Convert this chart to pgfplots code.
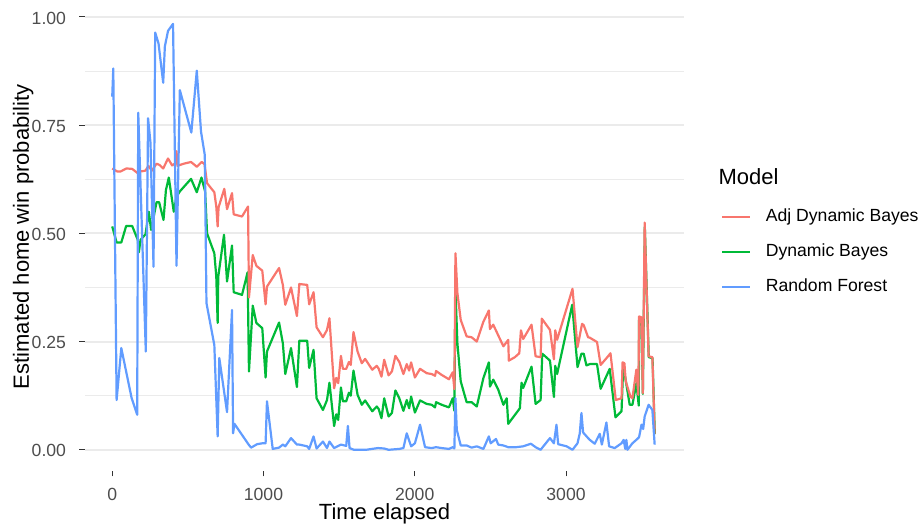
\documentclass[border=0pt]{standalone}
\usepackage{fontspec}
\setmainfont{Liberation Sans}
\usepackage{pgfplots}
\pgfplotsset{compat=1.18}

\definecolor{adjred}{HTML}{F8766D}
\definecolor{dbgreen}{HTML}{00BA38}
\definecolor{rfblue}{HTML}{619CFF}
\definecolor{grid92}{HTML}{EBEBEB}
\definecolor{txt30}{HTML}{4D4D4D}
\definecolor{tick20}{HTML}{333333}

\begin{document}
\begin{tikzpicture}
\path[use as bounding box] (-85pt,-53pt) rectangle (837pt,471pt);
\begin{axis}[
    at={(0pt,0pt)}, anchor=south west,
    scale only axis,
    width=599pt, height=468.3pt,
    xmin=-180, xmax=3780,
    ymin=-0.049, ymax=1.033,
    axis x line*=bottom, axis y line*=left,
    axis line style={draw=none},
    xtick={0,1000,2000,3000},
    xticklabels={0,1000,2000,3000},
    ytick={0,0.25,0.5,0.75,1},
    yticklabels={0.00,0.25,0.50,0.75,1.00},
    minor ytick={0.125,0.375,0.625,0.875},
    ymajorgrids, yminorgrids,
    major grid style={grid92, line width=1.9pt},
    minor grid style={grid92, line width=0.95pt},
    tick align=outside,
    major tick length=5.5pt,
    minor tick length=0pt,
    tick style={tick20, line width=1pt},
    xticklabel style={anchor=base, inner sep=0pt, yshift=-24pt, text=txt30,
        font=\fontsize{17.6}{20}\selectfont},
    yticklabel style={anchor=east, inner sep=0pt, xshift=-13.3pt, yshift=-1pt, text=txt30,
        font=\fontsize{17.6}{20}\selectfont},
    xlabel={Time elapsed},
    ylabel={Estimated home win probability},
    xlabel style={at={(axis description cs:0.5,0)}, anchor=base, yshift=-49pt,
        inner sep=0pt, font=\fontsize{22}{26}\selectfont},
    ylabel style={at={(axis description cs:-0.0938,0.5)}, anchor=base,
        inner sep=0pt, font=\fontsize{22}{26}\selectfont},
    legend style={at={(1.0618,0.5601)}, anchor=north west, draw=none, fill=none,
        inner sep=0pt, outer sep=0pt, row sep=18pt, column sep=0pt,
        font=\fontsize{17.6}{20}\selectfont,
        nodes={inner sep=0pt, text height=13pt, text depth=4pt}},
    legend cell align=left,
    legend image code/.code={
        \draw[#1, line width=2.2pt] (0pt,0pt) -- (28pt,0pt);
        \path (42.7pt,0pt);
    },
    every axis plot/.append style={line width=2.2pt, line join=round},
]

% Dynamic Bayes (drawn first, sits under the adjusted line)
\addplot[dbgreen, forget plot] coordinates {
(0,0.516) (29,0.479) (60,0.479) (92,0.517) (132,0.517) (169,0.485) (176,0.456)
(187,0.485) (220,0.498) (242,0.550) (257,0.508) (293,0.572) (310,0.572) (339,0.531)
(355,0.600) (374,0.629) (407,0.550) (425,0.585) (447,0.597) (521,0.626) (559,0.595)
(590,0.629) (614,0.597) (627,0.500) (675,0.454) (688,0.400) (697,0.293) (701,0.400)
(739,0.497) (759,0.389) (792,0.472) (803,0.364) (858,0.358) (895,0.410) (904,0.181)
(929,0.333) (953,0.293) (992,0.281) (1014,0.167) (1023,0.227) (1103,0.294) (1128,0.246)
(1144,0.175) (1182,0.235) (1221,0.145) (1237,0.252) (1289,0.252) (1302,0.189) (1331,0.231)
(1351,0.119) (1393,0.092) (1420,0.115) (1436,0.155) (1467,0.055) (1481,0.082) (1494,0.069)
(1512,0.144) (1525,0.112) (1547,0.112) (1565,0.132) (1577,0.125) (1595,0.183) (1622,0.127)
(1650,0.104) (1672,0.114) (1719,0.089) (1749,0.100) (1762,0.094) (1780,0.073) (1798,0.119)
(1827,0.077) (1849,0.085) (1872,0.137) (1898,0.119) (1925,0.090) (1947,0.115) (1963,0.096)
(1976,0.123) (2001,0.086) (2035,0.114) (2079,0.106) (2112,0.104) (2134,0.098) (2141,0.110)
(2178,0.104) (2226,0.098) (2251,0.119) (2262,0.090) (2269,0.370) (2282,0.246) (2304,0.158)
(2343,0.110) (2376,0.110) (2410,0.100) (2454,0.166) (2490,0.202) (2497,0.146) (2519,0.162)
(2552,0.139) (2586,0.104) (2608,0.119) (2618,0.060) (2695,0.096) (2706,0.155) (2717,0.143)
(2772,0.192) (2799,0.106) (2832,0.115) (2843,0.222) (2894,0.206) (2920,0.122) (2929,0.194)
(2941,0.175) (3041,0.335) (3076,0.191) (3102,0.222) (3117,0.222) (3135,0.195) (3157,0.198)
(3205,0.198) (3229,0.141) (3289,0.187) (3327,0.075) (3367,0.089) (3378,0.192) (3395,0.160)
(3421,0.104) (3439,0.104) (3465,0.154) (3481,0.102) (3483,0.300) (3499,0.300) (3508,0.129)
(3521,0.515) (3547,0.214) (3572,0.212) (3587,0.036)
};

% Adj Dynamic Bayes
\addplot[adjred, forget plot] coordinates {
(0,0.650) (33,0.643) (55,0.643) (94,0.650) (132,0.649) (169,0.639) (187,0.643)
(220,0.645) (239,0.656) (262,0.645) (293,0.661) (313,0.658) (337,0.650) (369,0.673)
(396,0.657) (418,0.662) (425,0.690) (431,0.656) (473,0.661) (521,0.665) (559,0.654)
(592,0.665) (610,0.660) (627,0.616) (675,0.595) (688,0.562) (697,0.516) (703,0.560)
(741,0.603) (759,0.556) (792,0.593) (803,0.544) (858,0.539) (898,0.562) (904,0.352)
(929,0.450) (953,0.425) (992,0.414) (1014,0.336) (1023,0.377) (1103,0.420) (1128,0.381)
(1144,0.335) (1182,0.375) (1221,0.309) (1237,0.383) (1289,0.381) (1302,0.336) (1331,0.364)
(1351,0.283) (1393,0.260) (1420,0.277) (1436,0.304) (1467,0.142) (1481,0.166) (1494,0.154)
(1512,0.217) (1525,0.187) (1547,0.187) (1565,0.203) (1577,0.196) (1595,0.272) (1622,0.227)
(1650,0.200) (1672,0.210) (1719,0.185) (1749,0.194) (1762,0.187) (1780,0.169) (1798,0.208)
(1827,0.172) (1849,0.181) (1872,0.217) (1898,0.203) (1925,0.175) (1947,0.198) (1963,0.183)
(1976,0.202) (2001,0.167) (2035,0.187) (2079,0.177) (2112,0.175) (2134,0.171) (2141,0.182)
(2178,0.173) (2226,0.163) (2251,0.179) (2262,0.140) (2269,0.454) (2282,0.362) (2304,0.300)
(2343,0.262) (2376,0.260) (2410,0.250) (2454,0.296) (2490,0.322) (2497,0.279) (2519,0.289)
(2586,0.239) (2618,0.254) (2622,0.206) (2662,0.214) (2691,0.223) (2702,0.276) (2717,0.256)
(2772,0.289) (2799,0.216) (2832,0.214) (2840,0.303) (2894,0.277) (2920,0.209) (2929,0.276)
(2941,0.254) (3043,0.372) (3076,0.237) (3106,0.291) (3117,0.288) (3146,0.260) (3157,0.259)
(3205,0.249) (3229,0.196) (3278,0.216) (3294,0.223) (3329,0.115) (3367,0.119) (3374,0.202)
(3386,0.200) (3395,0.158) (3426,0.123) (3439,0.119) (3465,0.185) (3478,0.127) (3483,0.308)
(3499,0.306) (3508,0.131) (3520,0.525) (3546,0.216) (3571,0.214) (3586,0.037)
};

% Random Forest
\addplot[rfblue, forget plot] coordinates {
(0,0.816) (7,0.881) (29,0.115) (60,0.235) (128,0.120) (165,0.081) (172,0.779)
(222,0.227) (237,0.766) (253,0.709) (273,0.423) (284,0.964) (306,0.939) (337,0.848)
(348,0.932) (369,0.968) (402,0.984) (425,0.425) (447,0.831) (523,0.733) (559,0.876)
(587,0.735) (612,0.681) (623,0.339) (675,0.242) (697,0.031) (708,0.212) (759,0.087)
(792,0.323) (799,0.038) (808,0.060) (902,0.012) (918,0.005) (958,0.013) (992,0.015)
(1014,0.015) (1023,0.112) (1061,0.002) (1103,0.005) (1128,0.012) (1144,0.008) (1182,0.027)
(1221,0.012) (1237,0.012) (1289,0.008) (1302,0.002) (1331,0.031) (1351,0.003) (1393,0.019)
(1420,0.004) (1436,0.019) (1467,0.004) (1512,0.012) (1547,0.009) (1558,0.055) (1569,0.004)
(1598,0.000) (1678,0.000) (1757,0.004) (1798,0.003) (1827,0.000) (1898,0.002) (1925,0.004)
(1947,0.038) (1976,0.008) (2001,0.015) (2035,0.058) (2068,0.006) (2112,0.004) (2141,0.006)
(2178,0.004) (2226,0.002) (2251,0.006) (2262,0.003) (2269,0.119) (2278,0.046) (2304,0.010)
(2343,0.010) (2376,0.005) (2410,0.008) (2454,0.002) (2490,0.031) (2502,0.015) (2537,0.025)
(2552,0.012) (2586,0.010) (2618,0.006) (2671,0.006) (2717,0.008) (2768,0.014) (2799,0.006)
(2832,0.000) (2871,0.017) (2894,0.027) (2920,0.015) (2937,0.058) (2948,0.013) (3004,0.008)
(3043,0.000) (3076,0.015) (3091,0.038) (3102,0.085) (3113,0.040) (3146,0.027) (3157,0.023)
(3190,0.014) (3223,0.037) (3237,0.012) (3267,0.063) (3285,0.008) (3322,0.004) (3367,0.015)
(3381,0.023) (3392,0.002) (3399,0.023) (3406,0.000) (3439,0.015) (3465,0.023) (3483,0.029)
(3499,0.058) (3510,0.048) (3520,0.077) (3546,0.104) (3571,0.092) (3586,0.012)
};

\addlegendimage{adjred, line width=2.2pt}
\addlegendentry{Adj Dynamic Bayes}
\addlegendimage{dbgreen, line width=2.2pt}
\addlegendentry{Dynamic Bayes}
\addlegendimage{rfblue, line width=2.2pt}
\addlegendentry{Random Forest}
\end{axis}
\node[anchor=base west, inner sep=0pt, font=\fontsize{22}{26}\selectfont]
    at (633.3pt,286.7pt) {Model};
\end{tikzpicture}
\end{document}
